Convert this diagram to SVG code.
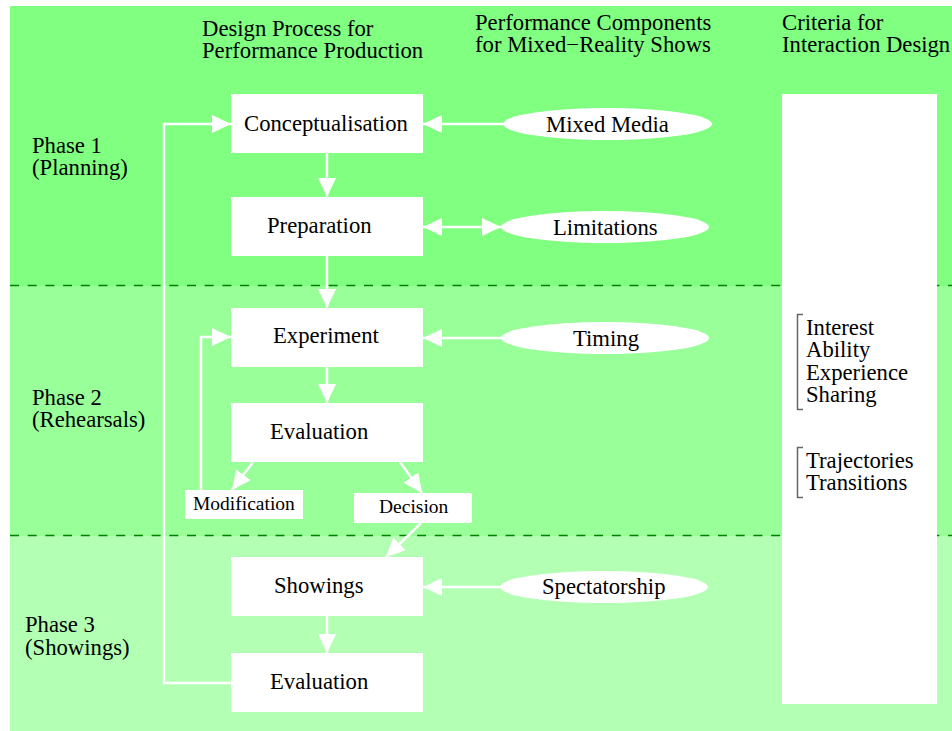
<svg xmlns="http://www.w3.org/2000/svg" width="952" height="731" viewBox="0 0 952 731">
<style>
text{font-family:"Liberation Serif","Times New Roman",serif;font-size:22.7px;fill:#000}
.sm{font-size:19.5px}
.box{fill:#fff}
.conn{stroke:#fff;stroke-width:2.5;fill:none}
.dash{stroke:#008000;stroke-width:1.5;stroke-dasharray:9 8.7}
.br{stroke:#666;stroke-width:1.5;fill:none}
</style>
<defs>
<marker id="ah" markerUnits="userSpaceOnUse" markerWidth="19" markerHeight="18" refX="19" refY="9" orient="auto-start-reverse">
<path d="M0,0 L19,9 L0,18 Z" fill="#fff"/>
</marker>
</defs>
<rect width="952" height="731" fill="#fff"/>
<g id="bands">
<rect x="10" y="6" width="942" height="280" fill="#80FF80"/>
<rect x="10" y="286" width="942" height="250" fill="#99FF99"/>
<rect x="10" y="536" width="942" height="195" fill="#B3FFB3"/>
<line class="dash" x1="10" y1="285.5" x2="952" y2="285.5"/>
<line class="dash" x1="10" y1="535.5" x2="952" y2="535.5"/>
</g>
<g id="headers">
<text x="202" y="36">Design Process for</text>
<text x="202" y="58">Performance Production</text>
<text x="475" y="30">Performance Components</text>
<text x="475" y="52">for Mixed−Reality Shows</text>
<text x="782" y="30">Criteria for</text>
<text x="782" y="52">Interaction Design</text>
</g>
<g id="phases">
<text x="32" y="153">Phase 1</text>
<text x="32" y="175">(Planning)</text>
<text x="32" y="405">Phase 2</text>
<text x="32" y="427">(Rehearsals)</text>
<text x="25" y="632">Phase 3</text>
<text x="25" y="655">(Showings)</text>
</g>
<g id="criteria">
<rect class="box" x="782" y="94" width="155" height="610"/>
<path class="br" d="M803,314.5 H797.5 V409.5 H803"/>
<text x="806" y="335">Interest</text>
<text x="806" y="357">Ability</text>
<text x="806" y="380">Experience</text>
<text x="806" y="402">Sharing</text>
<path class="br" d="M803,447.5 H797.5 V497.5 H803"/>
<text x="806" y="468">Trajectories</text>
<text x="806" y="490">Transitions</text>
</g>
<g id="connectors">
<path class="conn" d="M327,153 V197" marker-end="url(#ah)"/>
<path class="conn" d="M327,256 V308" marker-end="url(#ah)"/>
<path class="conn" d="M327,367 V403" marker-end="url(#ah)"/>
<path class="conn" d="M253,462 L232,490" marker-end="url(#ah)"/>
<path class="conn" d="M400,462 L422,493" marker-end="url(#ah)"/>
<path class="conn" d="M421,523 L386,557" marker-end="url(#ah)"/>
<path class="conn" d="M327,616 V653" marker-end="url(#ah)"/>
<path class="conn" d="M201,490 V337 H231" marker-end="url(#ah)"/>
<path class="conn" d="M231,683 H164 V124 H231" marker-end="url(#ah)"/>
<path class="conn" d="M503,124 H423" marker-end="url(#ah)"/>
<path class="conn" d="M423,227 H501" marker-start="url(#ah)" marker-end="url(#ah)"/>
<path class="conn" d="M501,338 H423" marker-end="url(#ah)"/>
<path class="conn" d="M500,587 H423" marker-end="url(#ah)"/>
</g>
<g id="conceptualisation"><rect class="box" x="231" y="94" width="192" height="59"/><text x="244" y="131">Conceptualisation</text></g>
<g id="preparation"><rect class="box" x="231" y="197" width="192" height="59"/><text x="267" y="233">Preparation</text></g>
<g id="experiment"><rect class="box" x="231" y="308" width="192" height="59"/><text x="273" y="343">Experiment</text></g>
<g id="evaluation1"><rect class="box" x="231" y="403" width="192" height="59"/><text x="270" y="439">Evaluation</text></g>
<g id="modification"><rect class="box" x="185" y="490" width="118" height="29"/><text class="sm" x="193" y="510">Modification</text></g>
<g id="decision"><rect class="box" x="354" y="493" width="118" height="30"/><text class="sm" x="379" y="513">Decision</text></g>
<g id="showings"><rect class="box" x="231" y="557" width="192" height="59"/><text x="274" y="593">Showings</text></g>
<g id="evaluation2"><rect class="box" x="231" y="653" width="192" height="59"/><text x="270" y="689">Evaluation</text></g>
<g id="mixedmedia"><ellipse class="box" cx="607.5" cy="124" rx="104.5" ry="16"/><text x="546" y="132">Mixed Media</text></g>
<g id="limitations"><ellipse class="box" cx="605" cy="227" rx="104" ry="16"/><text x="553" y="235">Limitations</text></g>
<g id="timing"><ellipse class="box" cx="605" cy="338" rx="104" ry="16"/><text x="573" y="346">Timing</text></g>
<g id="spectatorship"><ellipse class="box" cx="604" cy="587" rx="104" ry="16"/><text x="542" y="594">Spectatorship</text></g>
</svg>
